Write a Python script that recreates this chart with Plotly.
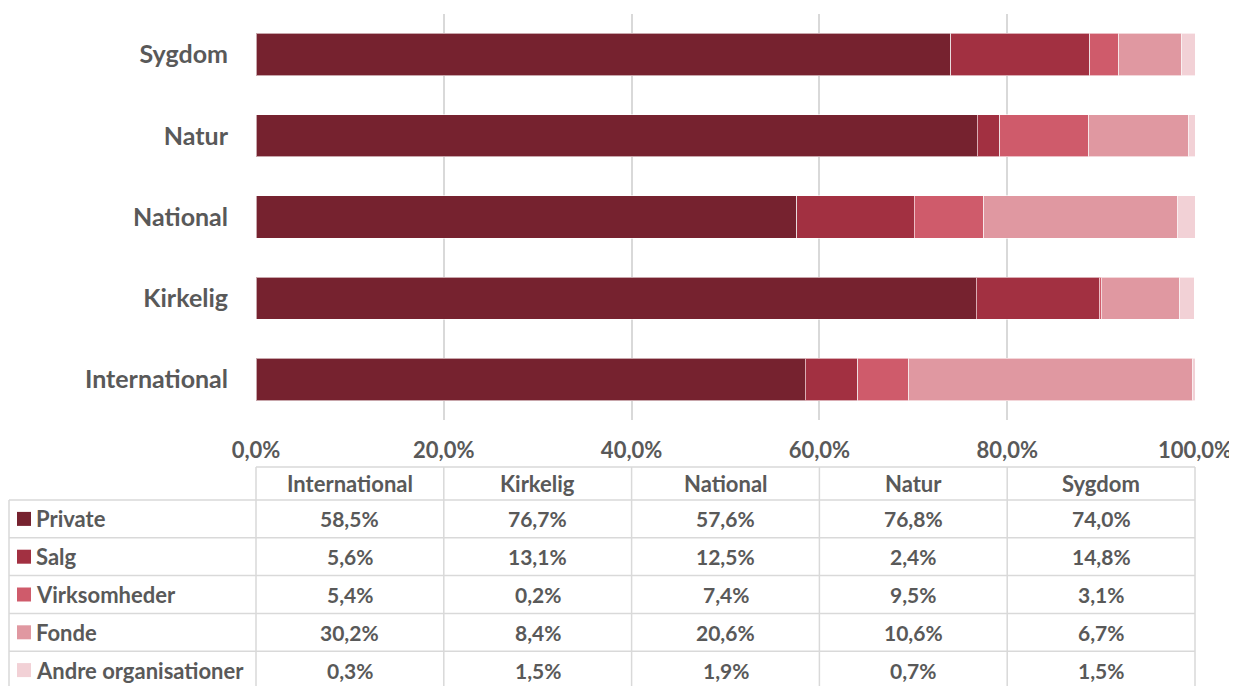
import plotly.graph_objects as go

categories = ["International", "Kirkelig", "National", "Natur", "Sygdom"]
series_names = ["Private", "Salg", "Virksomheder", "Fonde", "Andre organisationer"]
private = [58.5, 76.7, 57.6, 76.8, 74.0]
salg = [5.6, 13.1, 12.5, 2.4, 14.8]
virksomheder = [5.4, 0.2, 7.4, 9.5, 3.1]
fonde = [30.2, 8.4, 20.6, 10.6, 6.7]
andre = [0.3, 1.5, 1.9, 0.7, 1.5]
colors = ["#76222F", "#A23041", "#CF5B6B", "#E098A1", "#F2D1D6"]
x_ticks = [0, 20, 40, 60, 80, 100]
x_tick_labels = ["0,0%", "20,0%", "40,0%", "60,0%", "80,0%", "100,0%"]

series_values = [private, salg, virksomheder, fonde, andre]

# page offset (body margin) compensation
OFF = 8
W, H = 1237 - OFF, 686 - OFF
L, R, T, B = 256, 1195, 14, 420  # page pixel coordinates of plot area
FONT = "Lato"
GRAY = "#595959"
LINE = "#D9D9D9"

fig = go.Figure()
for name, vals, col in zip(series_names, series_values, colors):
    fig.add_trace(go.Bar(
        y=categories, x=vals, name=name, orientation="h",
        marker=dict(color=col, line=dict(color="rgba(255,255,255,0.6)", width=1)),
        showlegend=False, hoverinfo="x+y+name",
    ))

def py(p):
    return (B - p) / (B - T)

def px(p):
    return (p - L) / (R - L)

def dx(v):
    return v / 100.0

shapes = []
annotations = []
line = dict(color=LINE, width=1.5)
left_x = px(9)
header_top, first_row = 467, 500
row_h = 37.8
n_rows = len(series_names)
bottom = first_row + row_h * n_rows

shapes.append(dict(type="line", xref="paper", yref="paper", x0=0, x1=1, y0=py(header_top), y1=py(header_top), line=line))
for i in range(n_rows + 1):
    yy = first_row + row_h * i
    shapes.append(dict(type="line", xref="paper", yref="paper", x0=left_x, x1=1, y0=py(yy), y1=py(yy), line=line))
shapes.append(dict(type="line", xref="paper", yref="paper", x0=left_x, x1=left_x, y0=py(first_row), y1=py(bottom), line=line))
for xv in x_ticks:
    shapes.append(dict(type="line", xref="paper", yref="paper", x0=dx(xv), x1=dx(xv), y0=py(header_top), y1=py(bottom), line=line))

for i, c in enumerate(categories):
    cx = dx((x_ticks[i] + x_ticks[i + 1]) / 2)
    annotations.append(dict(x=cx, y=py((header_top + first_row) / 2), xref="paper", yref="paper",
                            text="<b>%s</b>" % c, showarrow=False,
                            font=dict(family=FONT, size=22, color=GRAY), xanchor="center", yanchor="middle"))

for r, (name, vals, col) in enumerate(zip(series_names, series_values, colors)):
    cy = first_row + row_h * r + row_h / 2
    shapes.append(dict(type="rect", xref="paper", yref="paper", x0=px(17), x1=px(31),
                       y0=py(cy + 7), y1=py(cy - 7), fillcolor=col, line=dict(width=0)))
    annotations.append(dict(x=px(34), y=py(cy), xref="paper", yref="paper", text="<b>%s</b>" % name,
                            showarrow=False, font=dict(family=FONT, size=22, color=GRAY),
                            xanchor="left", yanchor="middle"))
    for i, v in enumerate(vals):
        cx = dx((x_ticks[i] + x_ticks[i + 1]) / 2)
        annotations.append(dict(x=cx, y=py(cy), xref="paper", yref="paper",
                                text="<b>%s%%</b>" % ("%.1f" % v).replace(".", ","),
                                showarrow=False, font=dict(family=FONT, size=21, color=GRAY),
                                xanchor="center", yanchor="middle"))

fig.update_layout(
    width=W, height=H,
    margin=dict(l=L - OFF, r=W - (R - OFF), t=T - OFF, b=H - (B - OFF)),
    barmode="stack", bargap=0.48,
    plot_bgcolor="white", paper_bgcolor="white",
    shapes=shapes, annotations=annotations,
    font=dict(family=FONT),
)
fig.update_xaxes(range=[0, 100], tickvals=x_ticks, automargin=False,
                 ticktext=["<b>%s</b>" % t for t in x_tick_labels],
                 showgrid=True, gridcolor=LINE, gridwidth=1.5, zeroline=False,
                 showline=False, ticks="", ticklabelstandoff=15,
                 tickfont=dict(family=FONT, size=22, color=GRAY))
fig.update_yaxes(showgrid=False, zeroline=False, showline=False, ticks="",
                 ticklabelstandoff=27, automargin=False,
                 tickvals=categories,
                 ticktext=["<b>%s</b>" % c for c in categories],
                 tickfont=dict(family=FONT, size=25, color=GRAY))

fig.write_html("out.html")
